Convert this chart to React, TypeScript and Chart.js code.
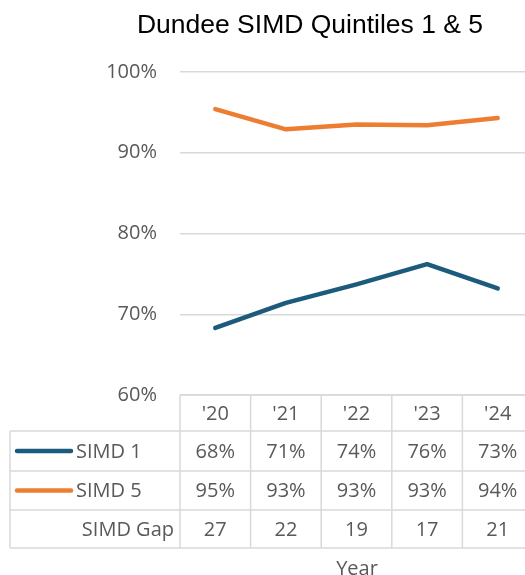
import React, { useEffect, useRef } from "react";
import { Chart, registerables } from "chart.js";

Chart.register(...registerables);

const title = "Dundee SIMD Quintiles 1 & 5";
const years = ["'20", "'21", "'22", "'23", "'24"];
const simd1 = [68.3, 71.4, 73.7, 76.2, 73.2];
const simd5 = [95.4, 92.9, 93.5, 93.4, 94.3];
const simd1Table = ["68%", "71%", "74%", "76%", "73%"];
const simd5Table = ["95%", "93%", "93%", "93%", "94%"];
const gapTable = ["27", "22", "19", "17", "21"];
const rowLabels = ["SIMD 1", "SIMD 5", "SIMD Gap"];
const axisTitle = "Year";

const BLUE = "#1d5b7c";
const ORANGE = "#ed7d31";
const GRID = "#d9d9d9";
const TEXT = "#595959";
const FONT = "'Open Sans', sans-serif";

const tablePlugin = {
  id: "tablePlugin",
  afterDraw(chart: any) {
    const ctx = chart.ctx;
    const x = chart.scales.x;
    const area = chart.chartArea;
    const colW = (area.right - area.left) / years.length;
    const rows = [area.bottom, 431, 471, 510, 548];
    const leftEdge = 10;
    ctx.save();
    // title
    ctx.fillStyle = "#000";
    ctx.font = "26.5px 'Liberation Sans', Arial, sans-serif";
    ctx.textAlign = "center";
    ctx.textBaseline = "alphabetic";
    ctx.fillText(title, 310, 33);

    // borders
    ctx.strokeStyle = GRID;
    ctx.lineWidth = 1.5;
    ctx.beginPath();
    ctx.moveTo(area.left, rows[0]);
    ctx.lineTo(area.right, rows[0]);
    for (let r = 1; r < rows.length; r++) {
      ctx.moveTo(leftEdge, rows[r]);
      ctx.lineTo(area.right, rows[r]);
    }
    ctx.moveTo(leftEdge, rows[1]);
    ctx.lineTo(leftEdge, rows[4]);
    for (let i = 0; i <= years.length; i++) {
      const cx = area.left + i * colW;
      ctx.moveTo(cx, rows[0]);
      ctx.lineTo(cx, rows[4]);
    }
    ctx.stroke();

    ctx.fillStyle = TEXT;
    ctx.font = "20px " + FONT;
    ctx.textBaseline = "middle";
    ctx.textAlign = "center";
    const rowData = [years, simd1Table, simd5Table, gapTable];
    for (let r = 0; r < rowData.length; r++) {
      const cy = (rows[r] + rows[r + 1]) / 2 + 1;
      rowData[r].forEach((t, i) => {
        ctx.fillText(t, x.getPixelForValue(i), cy);
      });
    }
    // row labels
    const keys = [BLUE, ORANGE];
    for (let r = 0; r < rowLabels.length; r++) {
      const cy = (rows[r + 1] + rows[r + 2]) / 2 + 1;
      if (r < keys.length) {
        ctx.textAlign = "left";
        ctx.fillText(rowLabels[r], 76, cy);
      } else {
        ctx.textAlign = "right";
        ctx.fillText(rowLabels[r], area.left - 6, cy);
      }
    }
    // legend keys
    ctx.lineWidth = 4.5;
    ctx.lineCap = "round";
    keys.forEach((c, k) => {
      const cy = (rows[k + 1] + rows[k + 2]) / 2;
      ctx.strokeStyle = c;
      ctx.beginPath();
      ctx.moveTo(17, cy);
      ctx.lineTo(71, cy);
      ctx.stroke();
    });
    // axis title
    ctx.textAlign = "center";
    ctx.textBaseline = "middle";
    ctx.fillText(axisTitle, 357, 569);
    ctx.restore();
  },
};

export default function App() {
  const ref = useRef<HTMLCanvasElement | null>(null);
  useEffect(() => {
    document.body.style.overflow = "hidden";
    const chart = new Chart(ref.current as HTMLCanvasElement, {
      type: "line",
      data: {
        labels: years,
        datasets: [
          {
            label: "SIMD 1",
            data: simd1,
            borderColor: BLUE,
            backgroundColor: BLUE,
            borderWidth: 4.5,
            pointRadius: 0,
            borderCapStyle: "round",
            borderJoinStyle: "round",
          },
          {
            label: "SIMD 5",
            data: simd5,
            borderColor: ORANGE,
            backgroundColor: ORANGE,
            borderWidth: 4.5,
            pointRadius: 0,
            borderCapStyle: "round",
            borderJoinStyle: "round",
          },
        ],
      },
      options: {
        animation: false,
        responsive: false,
        devicePixelRatio: 1,
        layout: { padding: { top: 72, bottom: 180, left: 0, right: 12 } },
        plugins: {
          legend: { display: false },
          title: { display: false },
          tooltip: { enabled: false },
        },
        scales: {
          x: { type: "category", display: false, offset: true },
          y: {
            min: 60,
            max: 100,
            border: { display: false },
            grid: { color: GRID, lineWidth: 1.5, drawTicks: false },
            ticks: {
              stepSize: 10,
              padding: 23,
              color: TEXT,
              font: { family: FONT, size: 20 },
              callback: (v: any) => v + "%",
            },
            afterFit: (s: any) => {
              s.width = 180;
            },
          },
        },
      },
      plugins: [tablePlugin],
    } as any);
    return () => chart.destroy();
  }, []);
  return (
    <div
      style={{
        position: "fixed",
        left: 0,
        top: 0,
        width: 525,
        height: 575,
        overflow: "hidden",
        background: "#fff",
      }}
    >
      <canvas ref={ref} width={545} height={575} style={{ display: "block", width: 545, height: 575 }} />
    </div>
  );
}
